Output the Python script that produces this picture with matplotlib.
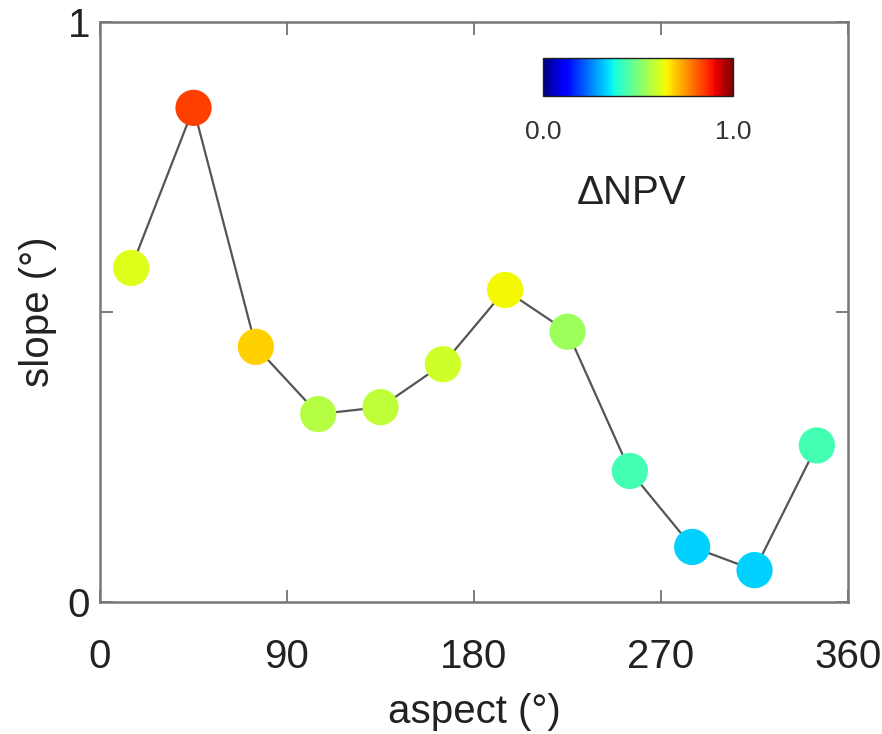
import numpy as np
import matplotlib
matplotlib.use("Agg")
import matplotlib.pyplot as plt

plt.rcParams['font.family'] = ['Liberation Sans', 'DejaVu Sans']

# aspect bins (deg), mean slope (normalised) and change in NPV
aspect = [15, 45, 75, 105, 135, 165, 195, 225, 255, 285, 315, 345]
slope = [0.576, 0.852, 0.44, 0.324, 0.336, 0.41, 0.538, 0.466, 0.226, 0.095, 0.055, 0.27]
dnpv = [0.62, 0.84, 0.69, 0.57, 0.58, 0.60, 0.645, 0.54, 0.43, 0.33, 0.33, 0.43]

xticks = [0, 90, 180, 270, 360]
yticks = [0, 0.5, 1]
yticklabels = ['0', '', '1']

fig = plt.figure(figsize=(8.82, 7.34), dpi=100)
ax = fig.add_axes([0.1134, 0.1798, 0.8481, 0.7902])

ax.plot(aspect, slope, color='#555555', lw=1.6, zorder=1)
sc = ax.scatter(aspect, slope, c=dnpv, cmap='jet', vmin=0, vmax=1,
                s=680, edgecolors='none', zorder=2)

ax.set_xlim(0, 360)
ax.set_ylim(0, 1)
ax.set_xticks(xticks)
ax.set_yticks(yticks)
ax.set_yticklabels(yticklabels)
ax.tick_params(direction='in', length=9, width=1.2, color='#666666',
               top=True, right=True, labelsize=29, labelcolor='#222222')
ax.tick_params(axis='x', pad=26)
ax.tick_params(axis='y', pad=7)
for sp in ax.spines.values():
    sp.set_color('#777777')
    sp.set_linewidth(1.8)

ax.set_xlabel('aspect (°)', fontsize=29, labelpad=12, color='#222222')
ax.set_ylabel('slope (°)', fontsize=29, labelpad=8, color='#222222')

# colour bar inset
cax = fig.add_axes([543 / 882, 1 - 96 / 734, 190 / 882, 38 / 734])
cb = fig.colorbar(sc, cax=cax, orientation='horizontal', ticks=[0, 1], format='%.1f')
cb.outline.set_edgecolor('#222222')
cb.outline.set_linewidth(1.0)
cax.tick_params(length=0, labelsize=19, pad=17, labelcolor='#333333')

fig.text(632 / 882, 1 - 193 / 734, 'ΔNPV', fontsize=29, ha='center', va='center',
         color='#222222')

fig.savefig('out.png', dpi=100)
